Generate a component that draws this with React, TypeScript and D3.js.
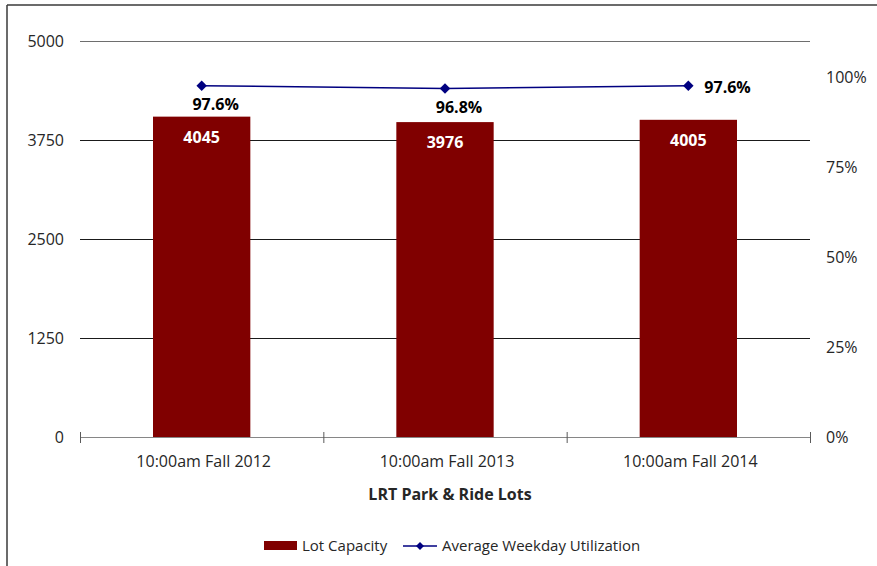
import React from "react";
import * as d3 from "d3";

const categories = ["10:00am Fall 2012", "10:00am Fall 2013", "10:00am Fall 2014"];
const lotCapacity = [4045, 3976, 4005];
const utilization = [0.976, 0.968, 0.976];
const utilizationLabels = ["97.6%", "96.8%", "97.6%"];
const leftTicks = [0, 1250, 2500, 3750, 5000];
const rightTicks = [0, 0.25, 0.5, 0.75, 1.0];
const xTitle = "LRT Park & Ride Lots";
const seriesNames = ["Lot Capacity", "Average Weekday Utilization"];

const W = 877;
const H = 566;
const FONT = "'Open Sans', sans-serif";

export default function App() {
  const left = 80, right = 810, top = 41, bottom = 437;
  const x = d3.scaleBand<string>().domain(categories).range([left, right]).paddingInner(0.6).paddingOuter(0.3);
  const xb = d3.scaleBand<string>().domain(categories).range([left, right]);
  const y = d3.scaleLinear().domain([0, 5000]).range([bottom, top]);
  const y2 = d3.scaleLinear().domain([0, 1.1]).range([bottom, top]);
  const line = d3
    .line<number>()
    .x((_, i) => xb(categories[i])! + xb.bandwidth() / 2)
    .y((d) => y2(d));
  const diamond = d3.symbol().type(d3.symbolDiamond2).size(70)();
  const bounds = [...categories.map((c) => xb(c)!), right];

  return (
    <svg width={W} height={H} style={{ position: "absolute", left: 0, top: 0, background: "#fff" }} fontFamily={FONT}>
      <rect x={0} y={0} width={W} height={H} fill="#fff" />
      <line x1={7} y1={5} x2={W} y2={5} stroke="#3a3a3a" strokeWidth={1.5} />
      <line x1={7} y1={5} x2={7} y2={H} stroke="#3a3a3a" strokeWidth={1.5} />
      {leftTicks.filter((t) => t > 0).map((t) => (
        <line key={t} x1={left} x2={right} y1={y(t) + 0.5} y2={y(t) + 0.5} stroke={t === 5000 ? "#6e6e6e" : "#1a1a1a"} strokeWidth={1} />
      ))}
      {leftTicks.map((t) => (
        <text key={t} x={64} y={y(t)} dy="0.36em" textAnchor="end" fontSize={16} fill="#262626">{t}</text>
      ))}
      {rightTicks.map((t) => (
        <text key={t} x={826} y={y2(t)} dy="0.36em" textAnchor="start" fontSize={16} fill="#262626">{Math.round(t * 100) + "%"}</text>
      ))}
      {categories.map((c, i) => (
        <g key={c}>
          <rect x={x(c)!} y={y(lotCapacity[i])} width={x.bandwidth()} height={bottom - y(lotCapacity[i])} fill="#800000" />
          <text x={x(c)! + x.bandwidth() / 2} y={y(lotCapacity[i]) + 26} textAnchor="middle" fontSize={16} fontWeight="bold" fill="#fff">{lotCapacity[i]}</text>
        </g>
      ))}
      <line x1={left} x2={right} y1={bottom + 0.5} y2={bottom + 0.5} stroke="#868686" strokeWidth={1.2} />
      {bounds.map((b, i) => (
        <line key={i} x1={b + 0.5} x2={b + 0.5} y1={bottom - 5} y2={bottom + 6} stroke="#5a5a5a" strokeWidth={1} />
      ))}
      {categories.map((c) => (
        <text key={c} x={xb(c)! + xb.bandwidth() / 2 + 2} y={467} textAnchor="middle" fontSize={16} fill="#262626">{c}</text>
      ))}
      <text x={450} y={500} textAnchor="middle" fontSize={16} fontWeight="bold" fill="#262626">{xTitle}</text>
      <path d={line(utilization) || ""} fill="none" stroke="#000080" strokeWidth={1.5} />
      {utilization.map((u, i) => {
        const cx = xb(categories[i])! + xb.bandwidth() / 2;
        const cy = y2(u);
        const last = i === utilization.length - 1;
        return (
          <g key={i}>
            <path d={diamond || ""} transform={`translate(${cx},${cy})`} fill="#000080" />
            <text x={last ? cx + 16 : cx + 14} y={last ? cy + 7 : cy + 24} textAnchor={last ? "start" : "middle"} fontSize={16} fontWeight="bold" fill="#000">{utilizationLabels[i]}</text>
          </g>
        );
      })}
      <rect x={264} y={541} width={33} height={9} fill="#800000" />
      <text x={302} y={551} fontSize={15} fill="#262626">{seriesNames[0]}</text>
      <line x1={403} x2={437} y1={546} y2={546} stroke="#000080" strokeWidth={1.5} />
      <path d={d3.symbol().type(d3.symbolDiamond2).size(40)() || ""} transform="translate(420,546)" fill="#000080" />
      <text x={442} y={551} fontSize={15} fill="#262626">{seriesNames[1]}</text>
    </svg>
  );
}
